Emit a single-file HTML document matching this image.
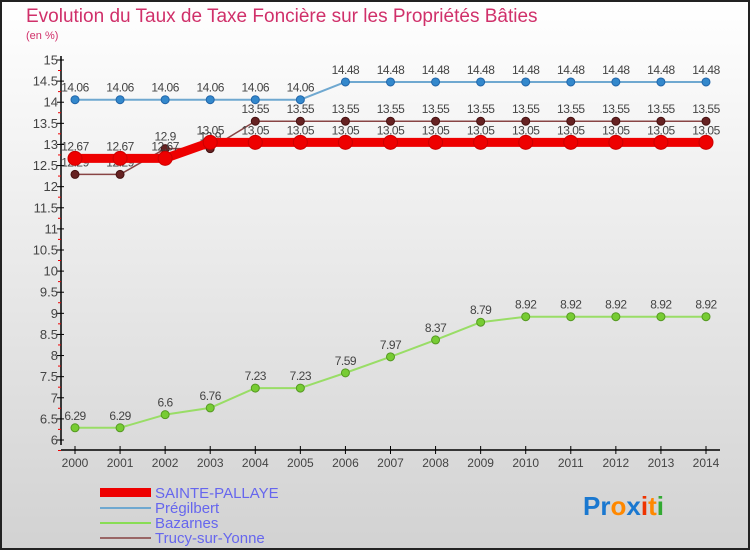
<!DOCTYPE html>
<html><head><meta charset="utf-8"><style>
html,body{margin:0;padding:0}
body{width:750px;height:550px;overflow:hidden;font-family:"Liberation Sans",sans-serif}
</style></head><body>
<svg id="chart" width="750" height="550" xmlns="http://www.w3.org/2000/svg" font-family="Liberation Sans, sans-serif">
<defs><linearGradient id="bg" x1="0" y1="0" x2="0" y2="1"><stop offset="0" stop-color="#ffffff"/><stop offset="1" stop-color="#d2d2d2"/></linearGradient></defs>
<rect x="1" y="1" width="748" height="548" fill="url(#bg)" stroke="#222" stroke-width="2"/>
<text x="26" y="22" font-size="19" font-weight="300" fill="#d0306a">Evolution du Taux de Taxe Foncière sur les Propriétés Bâties</text>
<text x="26" y="39" font-size="11" fill="#d0306a">(en %)</text>
<g id="axes"></g>
<g id="series"></g>
<g id="legend">
<rect x="100" y="488" width="51" height="9" fill="#ee0000"/>
<text x="155" y="498" font-size="15" fill="#6666ee">SAINTE-PALLAYE</text>
<line x1="100" y1="508" x2="151" y2="508" stroke="#6fa8d0" stroke-width="2"/>
<text x="155" y="513" font-size="15" fill="#6666ee">Prégilbert</text>
<line x1="100" y1="523" x2="151" y2="523" stroke="#88dd55" stroke-width="2"/>
<text x="155" y="528" font-size="15" fill="#6666ee">Bazarnes</text>
<line x1="100" y1="538" x2="151" y2="538" stroke="#996666" stroke-width="2"/>
<text x="155" y="543" font-size="15" fill="#6666ee">Trucy-sur-Yonne</text>
</g>
<text x="583" y="515" font-size="26" font-weight="bold"><tspan fill="#1a78d0">Pr</tspan><tspan fill="#ff8800">o</tspan><tspan fill="#1a78d0">x</tspan><tspan fill="#ee3300">i</tspan><tspan fill="#ff8800">t</tspan><tspan fill="#33aa33">i</tspan></text>
</svg>
<script>
const years = [2000,2001,2002,2003,2004,2005,2006,2007,2008,2009,2010,2011,2012,2013,2014];
const yTicks = [6,6.5,7,7.5,8,8.5,9,9.5,10,10.5,11,11.5,12,12.5,13,13.5,14,14.5,15];
const sainte = [12.67,12.67,12.67,13.05,13.05,13.05,13.05,13.05,13.05,13.05,13.05,13.05,13.05,13.05,13.05];
const pregilbert = [14.06,14.06,14.06,14.06,14.06,14.06,14.48,14.48,14.48,14.48,14.48,14.48,14.48,14.48,14.48];
const bazarnes = [6.29,6.29,6.6,6.76,7.23,7.23,7.59,7.97,8.37,8.79,8.92,8.92,8.92,8.92,8.92];
const trucy = [12.29,12.29,12.9,12.9,13.55,13.55,13.55,13.55,13.55,13.55,13.55,13.55,13.55,13.55,13.55];

const NS='http://www.w3.org/2000/svg';
const xs = i => 75 + i*(706-75)/(years.length-1);
const ys = v => 440 - (v-6)*(380/9);
function mk(tag, attrs, parent){const e=document.createElementNS(NS,tag);for(const k in attrs)e.setAttribute(k,attrs[k]);parent.appendChild(e);return e;}
const axes=document.getElementById('axes');
let yl=mk('line',{x1:61,y1:56,x2:61,y2:445,stroke:'#000','stroke-width':1.5},axes);


let xl=mk('line',{x1:61,y1:450,x2:720,y2:450,stroke:'#000','stroke-width':1.5},axes);


yTicks.forEach(v=>{
  const y=ys(v);
  mk('line',{x1:57,y1:y,x2:64,y2:y,stroke:'#000'},axes);
  mk('line',{x1:58,y1:y+10.5,x2:61,y2:y+10.5,stroke:'#e00'},axes);
  const t=mk('text',{x:58,y:y+4.5,'font-size':13,'text-anchor':'end',fill:'#444'},axes);
  t.textContent=v;
  
  
});
years.forEach((yr,i)=>{
  const x=xs(i);
  mk('line',{x1:x,y1:446,x2:x,y2:454,stroke:'#000'},axes);
  const t=mk('text',{x:x,y:467,'font-size':12,'text-anchor':'middle',fill:'#444'},axes);
  t.textContent=yr;
  
  
});
const ser=document.getElementById('series');
function draw(vals,name,color,w,r,fill,stroke){
  const g=mk('g',{},ser);
  
  
  mk('polyline',{points:vals.map((v,i)=>xs(i)+','+ys(v)).join(' '),fill:'none',stroke:color,'stroke-width':w,'stroke-linejoin':'round'},g);
  vals.forEach((v,i)=>{
    const c=mk('circle',{cx:xs(i),cy:ys(v),r:r,fill:fill,stroke:stroke,'stroke-width':1},g);
    
    
    const t=mk('text',{x:xs(i),y:ys(v)-8,'font-size':12,'text-anchor':'middle',fill:'#444','letter-spacing':'-0.5'},g);
    t.textContent=v;
    
    
  });
}
draw(bazarnes,'bazarnes-series','#99dd66',2,4,'#77cc33','#559922');
draw(pregilbert,'pregilbert-series','#6fa8d0',2,4,'#3388cc','#2266aa');
draw(trucy,'trucy-series','#884444',1.5,4,'#662222','#441111');
draw(sainte,'sainte-pallaye-series','#ee0000',9,7,'#ee0000','#cc0000');
</script>
</body></html>
